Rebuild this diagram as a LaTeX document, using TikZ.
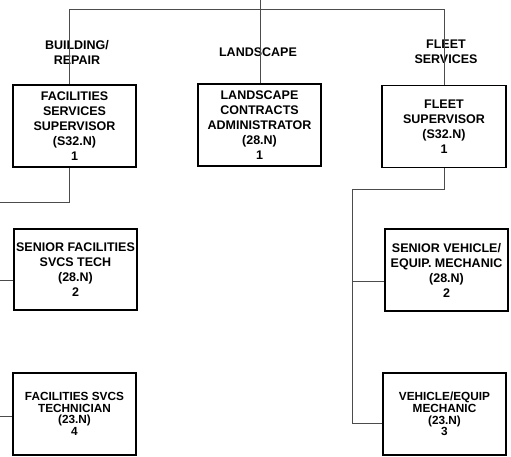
\documentclass[tikz,border=0pt]{standalone}
\usepackage{fontspec}
\setmainfont{Liberation Sans}[BoldFont={Liberation Sans Bold}]
\newfontfamily\bfam{Liberation Sans Bold}
\begin{document}
\begin{tikzpicture}[x=1pt,y=-1pt,
  every node/.style={font=\bfam\fontsize{12.5}{15}\selectfont, align=center, inner sep=0pt},
  post/.style={draw=black, line width=1.4pt, minimum width=123pt, minimum height=82pt},
  small/.style={font=\bfam\fontsize{11.8}{11.6}\selectfont},
  conn/.style={draw=black!70, line width=1pt},
  lbl/.style={}]
\useasboundingbox (0,0) rectangle (511,457);
% boxes
\node[post] (b1) at (74.5,126) {FACILITIES\\SERVICES\\SUPERVISOR\\(S32.N)\\1};
\node[post] (b2) at (259.5,125) {LANDSCAPE\\CONTRACTS\\ADMINISTRATOR\\(28.N)\\1};
\node[post, minimum width=124pt] (b3) at (444,126.5) {FLEET\\SUPERVISOR\\(S32.N)\\1};
\node[post, minimum height=81pt] (b4) at (75.5,269.5) {SENIOR FACILITIES\\SVCS TECH\\(28.N)\\2};
\node[post, small] (b5) at (74.5,414) {FACILITIES SVCS\\TECHNICIAN\\(23.N)\\4};
\node[post] (b6) at (446.5,270) {SENIOR VEHICLE/\\EQUIP. MECHANIC\\(28.N)\\2};
\node[post, small] (b7) at (444.5,414) {VEHICLE/EQUIP\\MECHANIC\\(23.N)\\3};
% labels
\node[lbl] (l1) at (77,52.5) {BUILDING/\\REPAIR};
\node[lbl] (l2) at (258,52) {LANDSCAPE};
\node[lbl] (l3) at (446,51.5) {FLEET\\SERVICES};
% coordinates
\coordinate (top) at (260,0);
\coordinate (hl) at (69,10);
\coordinate (hr) at (444,10);
\coordinate (lt) at (0,203);
\coordinate (s1) at (0,280);
\coordinate (s2) at (0,416);
\coordinate (f1) at (352,190);
\coordinate (f2) at (352,423);
\coordinate (f3) at (352,281);
% connectors
\draw[conn] (top) -- (top |- b2.north);
\draw[conn] (hl |- b1.north) -- (hl) -- (hr) -- (hr |- b3.north);
\draw[conn] (hl |- b1.south) |- (lt);
\draw[conn] (s1) -- (s1 -| b4.west);
\draw[conn] (s2) -- (s2 -| b5.west);
\draw[conn] (hr |- b3.south) |- (f1) -- (f2) -- (f2 -| b7.west);
\draw[conn] (f3) -- (f3 -| b6.west);
\end{tikzpicture}
\end{document}
